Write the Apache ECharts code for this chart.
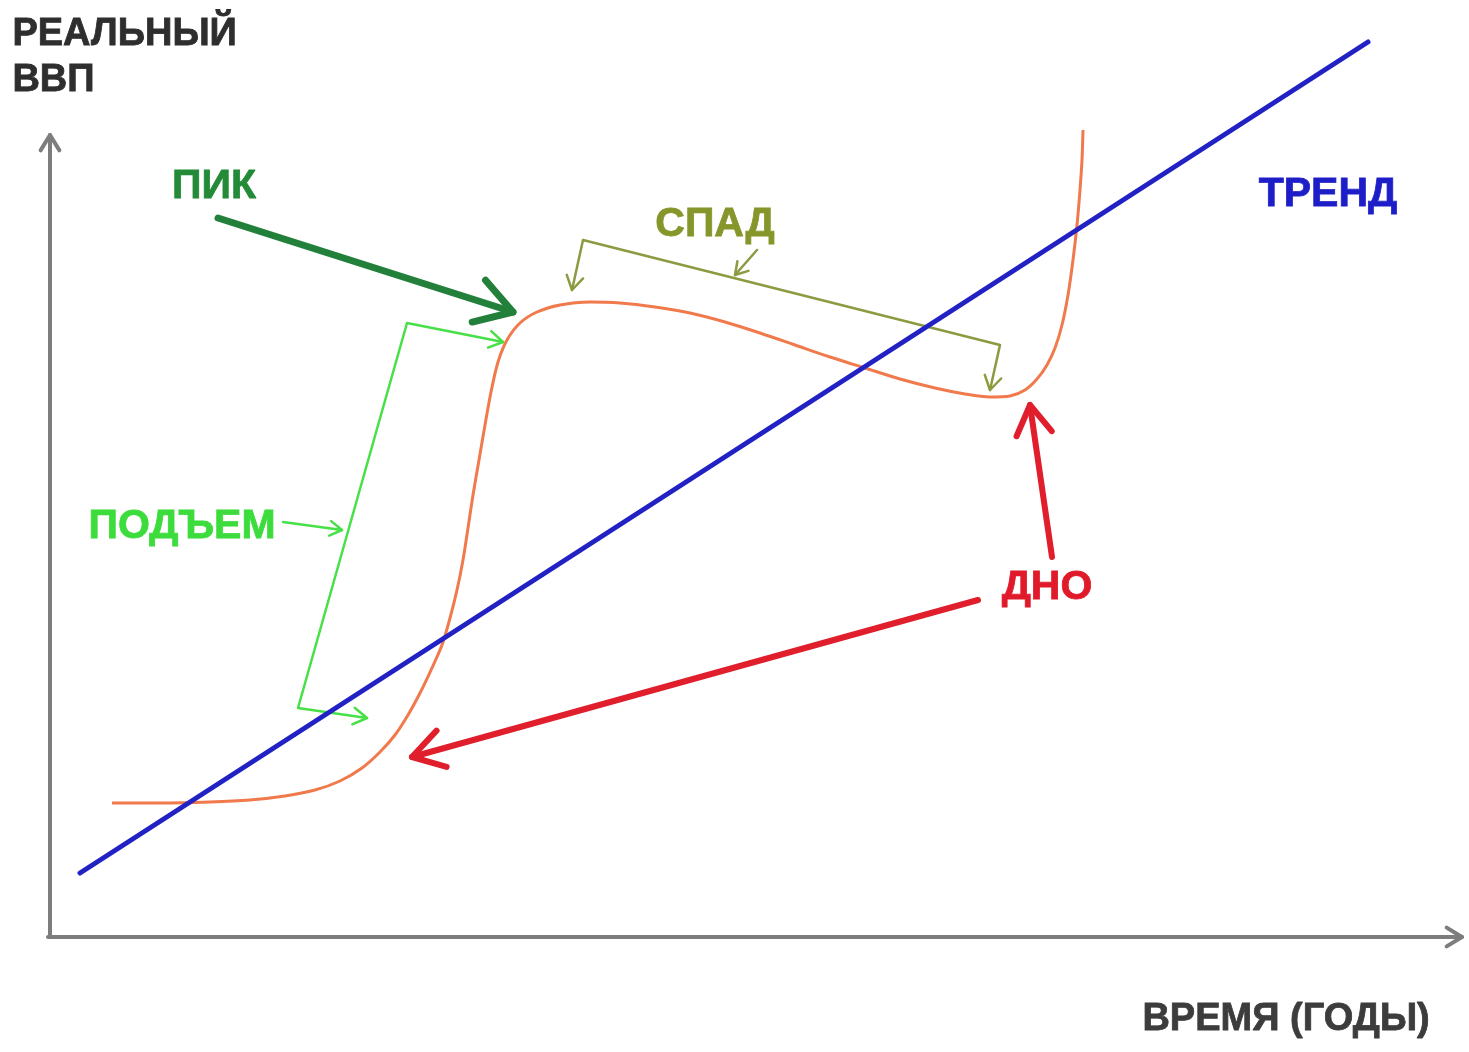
<!DOCTYPE html>
<html>
<head>
<meta charset="utf-8">
<script src="https://cdn.jsdelivr.net/npm/echarts@6/dist/echarts.min.js"></script>
<style>html,body{margin:0;padding:0;background:#fff}#c{width:1469px;height:1052px}</style>
</head>
<body>
<div id="c"></div>
<script>
// ---- data (time in "years", real GDP in arbitrary units) ----
const trendTime = [0.32, 13.20];
const trendGdp  = [0.64, 8.95];

const cycleTime = [0.64, 1.12, 1.62, 2.02, 2.37, 2.67, 2.92, 3.14, 3.32, 3.47, 3.60, 3.72, 3.83, 3.94, 4.02, 4.09, 4.15, 4.20, 4.25, 4.31, 4.37, 4.43, 4.50, 4.59, 4.72, 4.89, 5.12, 5.42, 5.72, 6.07, 6.42, 6.77, 7.12, 7.47, 7.82, 8.17, 8.52, 8.87, 9.17, 9.42, 9.62, 9.77, 9.89, 9.99, 10.07, 10.14, 10.20, 10.25, 10.29, 10.32, 10.34, 10.35];
const cycleGdp  = [1.34, 1.34, 1.35, 1.37, 1.41, 1.47, 1.56, 1.69, 1.85, 2.02, 2.22, 2.44, 2.67, 2.92, 3.19, 3.47, 3.77, 4.09, 4.42, 4.77, 5.12, 5.45, 5.75, 5.97, 6.14, 6.25, 6.32, 6.35, 6.34, 6.30, 6.24, 6.15, 6.04, 5.92, 5.80, 5.69, 5.58, 5.49, 5.43, 5.40, 5.41, 5.47, 5.58, 5.72, 5.89, 6.12, 6.42, 6.77, 7.12, 7.47, 7.77, 8.07];

// annotation polylines (arrows / brackets)
const axisYTime = [0.02, 0.02],  axisYGdp = [0.00, 8.02];
const axisXTime = [0.00, 14.14], axisXGdp = [0.00, 0.00];
const peakArrowTime = [1.70, 4.65], peakArrowGdp = [7.19, 6.25];
const troughArrow1Time = [9.30, 3.64], troughArrow1Gdp = [3.37, 1.80];
const troughArrow2Time = [10.04, 9.82], troughArrow2Gdp = [3.80, 5.32];
const riseBracketTime = [4.55, 3.59, 2.50, 3.19], riseBracketGdp = [5.95, 6.14, 2.29, 2.19];
const riseLinkTime = [2.35, 2.94], riseLinkGdp = [4.15, 4.07];
const fallBracketTime = [5.24, 5.35, 9.52, 9.42], fallBracketGdp = [6.47, 6.97, 5.92, 5.47];
const fallLinkTime = [7.09, 6.87], fallLinkGdp = [6.87, 6.62];

// labels
const labelText = ['ПИК', 'СПАД', 'ТРЕНД', 'ПОДЪЕМ', 'ДНО'];
const labelTime = [1.66, 6.67, 12.80, 1.34, 9.99];
const labelGdp  = [7.50, 7.12, 7.42, 4.10, 3.49];
const labelColor = ['#238a38', '#86962a', '#1e1ec8', '#3cdc3c', '#e01a2a'];

const yTitle = 'РЕАЛЬНЫЙ\nВВП';
const xTitle = 'ВРЕМЯ (ГОДЫ)';

// ---- shapes built from the arrays ----
const shapes = [
  {x: axisYTime, y: axisYGdp, color: '#7d7d7d', w: 4, head: 18, start: false, end: true},
  {x: axisXTime, y: axisXGdp, color: '#7d7d7d', w: 4, head: 18, start: false, end: true},
  {x: peakArrowTime, y: peakArrowGdp, color: '#23803a', w: 7, head: 42, start: false, end: true},
  {x: troughArrow1Time, y: troughArrow1Gdp, color: '#e01e2c', w: 6, head: 36, start: false, end: true},
  {x: troughArrow2Time, y: troughArrow2Gdp, color: '#e01e2c', w: 6, head: 34, start: false, end: true},
  {x: riseBracketTime, y: riseBracketGdp, color: '#48e048', w: 2.5, head: 16, start: true, end: true},
  {x: riseLinkTime, y: riseLinkGdp, color: '#48e048', w: 2.5, head: 14, start: false, end: true},
  {x: fallBracketTime, y: fallBracketGdp, color: '#8c9a40', w: 2.5, head: 16, start: true, end: true},
  {x: fallLinkTime, y: fallLinkGdp, color: '#8c9a40', w: 2.5, head: 14, start: false, end: true}
];

function headPts(tip, prev, L, th) {
  const a = Math.atan2(tip[1] - prev[1], tip[0] - prev[0]);
  return [
    [tip[0] - L * Math.cos(a - th), tip[1] - L * Math.sin(a - th)],
    tip,
    [tip[0] - L * Math.cos(a + th), tip[1] - L * Math.sin(a + th)]
  ];
}

function renderShape(params, api) {
  const s = shapes[api.value(0)];
  const pts = s.x.map((x, i) => api.coord([x, s.y[i]]));
  const style = {stroke: s.color, lineWidth: s.w, fill: null, lineCap: 'round', lineJoin: 'round'};
  const children = [{type: 'polyline', shape: {points: pts}, style: style}];
  const th = 0.55;
  if (s.end) children.push({type: 'polyline', shape: {points: headPts(pts[pts.length - 1], pts[pts.length - 2], s.head, th)}, style: style});
  if (s.start) children.push({type: 'polyline', shape: {points: headPts(pts[0], pts[1], s.head, th)}, style: style});
  return {type: 'group', children: children};
}

const chart = echarts.init(document.getElementById('c'));
const labelFont = 'Liberation Sans, Arial, sans-serif';
chart.setOption({
  animation: false,
  backgroundColor: '#ffffff',
  grid: {left: 48, right: 1, top: 37, bottom: 115},
  xAxis: {type: 'value', min: 0, max: 14.2, show: false},
  yAxis: {type: 'value', min: 0, max: 9.0, show: false},
  graphic: [
    {type: 'text', left: 12, top: 12, style: {text: yTitle, font: 'bold 38px ' + labelFont, fill: '#2e2e2e', lineHeight: 46, stroke: '#2e2e2e', lineWidth: 0.8}},
    {type: 'text', left: 1142, top: 1000, style: {text: xTitle, font: 'bold 38px ' + labelFont, fill: '#3c3c3c', stroke: '#3c3c3c', lineWidth: 0.8}}
  ],
  series: [
    {
      type: 'custom', renderItem: renderShape, clip: false,
      data: shapes.map((s, i) => [i]), encode: {x: -1, y: -1}, silent: true, z: 2
    },
    {
      type: 'line', data: trendTime.map((t, i) => [t, trendGdp[i]]), showSymbol: false, symbol: 'none',
      lineStyle: {color: '#2222c4', width: 5, cap: 'round'}, z: 4, clip: false
    },
    {
      type: 'line', data: cycleTime.map((t, i) => [t, cycleGdp[i]]), showSymbol: false, symbol: 'none',
      smooth: 0.3,
      lineStyle: {color: '#f07a4c', width: 3}, z: 3, clip: false
    },
    {
      type: 'scatter', symbolSize: 0, z: 5, silent: true,
      itemStyle: {color: 'rgba(0,0,0,0)', opacity: 1},
      data: labelText.map((t, i) => ({
        value: [labelTime[i], labelGdp[i]],
        label: {show: true, position: 'inside', formatter: t, color: labelColor[i], opacity: 1,
          fontSize: 41, fontWeight: 'bold', fontFamily: labelFont, textBorderColor: labelColor[i], textBorderWidth: 0.8}
      }))
    }
  ]
});
</script>
</body>
</html>
